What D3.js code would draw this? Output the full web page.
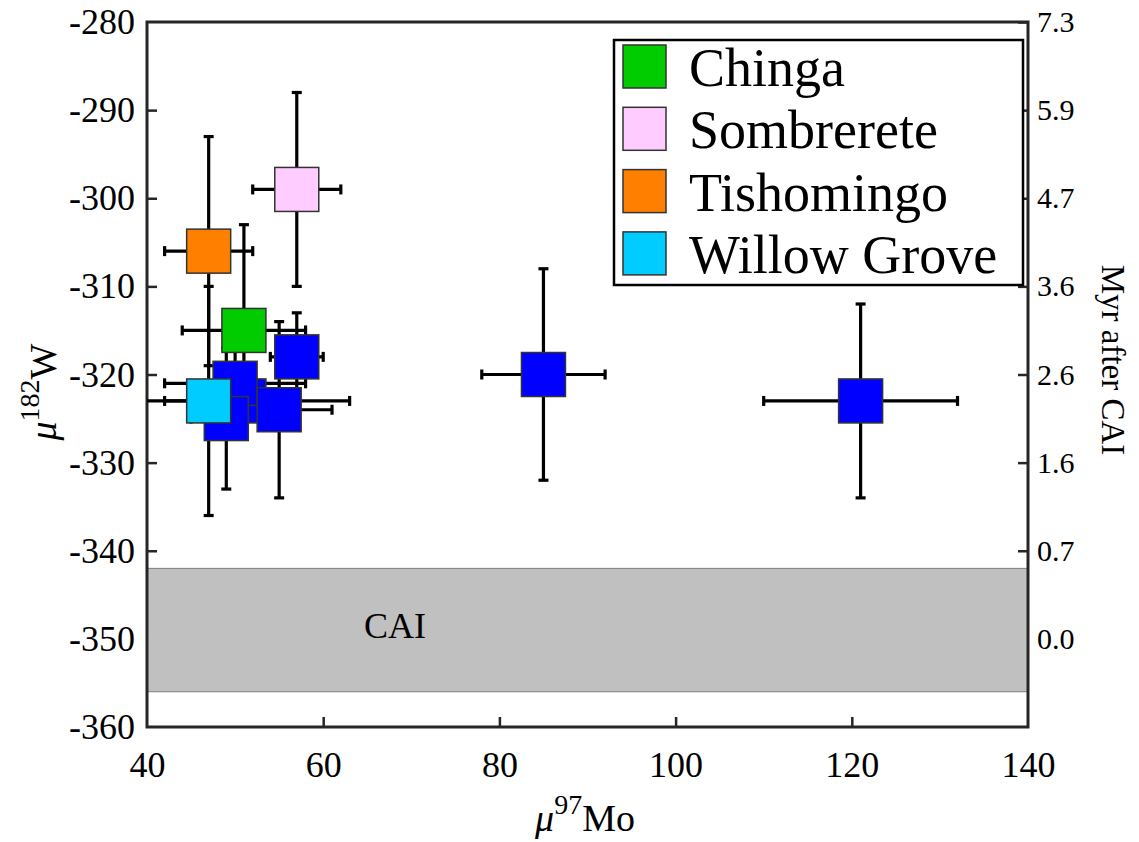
<!DOCTYPE html>
<html>
<head>
<meta charset="utf-8">
<script src="https://cdn.jsdelivr.net/npm/d3@7"></script>
<style>
  html, body { margin: 0; padding: 0; background: #fff; }
  svg { display: block; }
  text { font-family: "Liberation Serif", "Times New Roman", serif; fill: #000; }
</style>
</head>
<body>
<svg id="chart" width="1139" height="842"></svg>
<script>
// Meteorite samples: μ97Mo vs μ182W with 2σ error bars
const blueSamples = [
  { mo: 51, w: -323, moErr: 12, wErr: 4 },
  { mo: 50, w: -321, moErr: 8,  wErr: 6 },
  { mo: 49, w: -325, moErr: 4,  wErr: 8 },
  { mo: 55, w: -324, moErr: 6,  wErr: 10 },
  { mo: 57, w: -318, moErr: 3,  wErr: 5 },
  { mo: 85, w: -320, moErr: 7,  wErr: 12 },
  { mo: 121, w: -323, moErr: 11, wErr: 11 }
];
const namedSamples = ["Chinga", "Sombrerete", "Tishomingo", "Willow Grove"];
const namedMo      = [51, 57, 47, 47];
const namedW       = [-315, -299, -306, -323];
const namedMoErr   = [7, 5, 5, 5];
const namedWErr    = [12, 11, 13, 13];
const namedColors  = ["#00cc00", "#ffccff", "#ff8000", "#00ccff"];
const blueColor = "#0000ff";

const xTicks = [40, 60, 80, 100, 120, 140];
const yTicks = [-360, -350, -340, -330, -320, -310, -300, -290, -280];
const ageTickW      = [-280, -290, -300, -310, -320, -330, -340, -350];
const ageTickLabels = ["7.3", "5.9", "4.7", "3.6", "2.6", "1.6", "0.7", "0.0"];
const caiBand = [-356, -342];

const svg = d3.select("#chart");
const L = 147, R = 1028, T = 22, B = 727;
const x = d3.scaleLinear().domain([40, 140]).range([L, R]);
const y = d3.scaleLinear().domain([-360, -280]).range([B, T]);
const axisColor = "#262626";
const serif = "'Liberation Serif', 'Times New Roman', serif";

// inward tick marks + labels (plain hyphen for negatives)
const gx = svg.append("g").attr("transform", `translate(0,${B})`)
  .call(d3.axisBottom(x).tickValues(xTicks).tickSize(-10).tickPadding(24).tickFormat(d => String(d)));
const gy = svg.append("g").attr("transform", `translate(${L},0)`)
  .call(d3.axisLeft(y).tickValues(yTicks).tickSize(-10).tickPadding(12).tickFormat(d => String(d)));
const gr = svg.append("g").attr("transform", `translate(${R},0)`)
  .call(d3.axisRight(y).tickValues(ageTickW).tickSize(-10).tickPadding(9)
    .tickFormat((d, i) => ageTickLabels[i]));
[gx, gy, gr].forEach(g => {
  g.attr("font-family", serif);
  g.select(".domain").remove();
  g.selectAll(".tick line").attr("stroke", axisColor).attr("stroke-width", 2.5);
  g.selectAll(".tick text").attr("fill", "#000").style("font-family", serif);
});
gx.attr("font-size", 36).selectAll(".tick text").attr("font-size", 36);
gy.attr("font-size", 36).selectAll(".tick text").attr("font-size", 36);
gr.attr("font-size", 30).selectAll(".tick text").attr("font-size", 30);
// corner ticks coincide with the frame
gx.selectAll(".tick line").filter(d => d === 40 || d === 140).remove();
gy.selectAll(".tick line").filter(d => d === -360 || d === -280).remove();

// CAI formation band
svg.append("rect")
  .attr("x", x(40)).attr("width", x(140) - x(40))
  .attr("y", y(caiBand[1])).attr("height", y(caiBand[0]) - y(caiBand[1]))
  .attr("fill", "#c0c0c0").attr("stroke", "#7f7f7f").attr("stroke-width", 1);
svg.append("text").attr("x", 395).attr("y", y((caiBand[0] + caiBand[1]) / 2) - 4)
  .attr("text-anchor", "middle").attr("dominant-baseline", "central")
  .style("font-size", "36px").text("CAI");

// plot frame
svg.append("rect").attr("x", L).attr("y", T).attr("width", R - L).attr("height", B - T)
  .attr("fill", "none").attr("stroke", axisColor).attr("stroke-width", 3);

// assemble all samples in drawing order
const samples = blueSamples.map(d => Object.assign({ color: blueColor }, d));
namedSamples.forEach((n, i) => samples.push({
  name: n, mo: namedMo[i], w: namedW[i], moErr: namedMoErr[i], wErr: namedWErr[i], color: namedColors[i]
}));

svg.append("clipPath").attr("id", "plotclip")
  .append("rect").attr("x", L).attr("y", T).attr("width", R - L).attr("height", B - T);

// error bars underneath every marker
const cap = 5;
const eb = svg.append("g").attr("clip-path", "url(#plotclip)")
  .attr("stroke", "#000").attr("stroke-width", 3.2).attr("fill", "none");
samples.forEach(d => {
  const cx = x(d.mo), cy = y(d.w);
  const x0 = x(d.mo - d.moErr), x1 = x(d.mo + d.moErr);
  const y0 = y(d.w - d.wErr), y1 = y(d.w + d.wErr);
  eb.append("line").attr("x1", x0).attr("x2", x1).attr("y1", cy).attr("y2", cy);
  eb.append("line").attr("x1", x0).attr("x2", x0).attr("y1", cy - cap).attr("y2", cy + cap);
  eb.append("line").attr("x1", x1).attr("x2", x1).attr("y1", cy - cap).attr("y2", cy + cap);
  eb.append("line").attr("x1", cx).attr("x2", cx).attr("y1", y0).attr("y2", y1);
  eb.append("line").attr("x1", cx - cap).attr("x2", cx + cap).attr("y1", y0).attr("y2", y0);
  eb.append("line").attr("x1", cx - cap).attr("x2", cx + cap).attr("y1", y1).attr("y2", y1);
});

// square markers
const ms = 44;
svg.append("g").selectAll("rect").data(samples).join("rect")
  .attr("x", d => x(d.mo) - ms / 2).attr("y", d => y(d.w) - ms / 2)
  .attr("width", ms).attr("height", ms)
  .attr("fill", d => d.color).attr("stroke", "#333").attr("stroke-width", 1.5);

// legend
const lg = svg.append("g");
lg.append("rect").attr("x", 614).attr("y", 40).attr("width", 409).attr("height", 245)
  .attr("fill", "#fff").attr("stroke", "#000").attr("stroke-width", 2.5);
namedSamples.forEach((n, i) => {
  const cy = 66 + i * 62.3;
  lg.append("rect").attr("x", 623).attr("y", cy - 21).attr("width", 43).attr("height", 43)
    .attr("fill", namedColors[i]).attr("stroke", "#333").attr("stroke-width", 1.5);
  lg.append("text").attr("x", 689).attr("y", cy + 2).attr("dominant-baseline", "central")
    .style("font-size", "54px").text(n);
});

// axis titles
const xt = svg.append("text").attr("x", 585).attr("y", 831).attr("text-anchor", "middle")
  .style("font-size", "38px");
xt.append("tspan").style("font-style", "italic").text("μ");
xt.append("tspan").attr("dy", -17).style("font-size", "28px").text("97");
xt.append("tspan").attr("dy", 17).text("Mo");

const yt = svg.append("text").attr("transform", "translate(56,392) rotate(-90)")
  .attr("text-anchor", "middle").style("font-size", "38px");
yt.append("tspan").style("font-style", "italic").text("μ");
yt.append("tspan").attr("dy", -17).style("font-size", "28px").text("182");
yt.append("tspan").attr("dy", 17).text("W");

svg.append("text").attr("transform", "translate(1102,360) rotate(90)")
  .attr("text-anchor", "middle").style("font-size", "33px").text("Myr after CAI");
</script>
</body>
</html>
